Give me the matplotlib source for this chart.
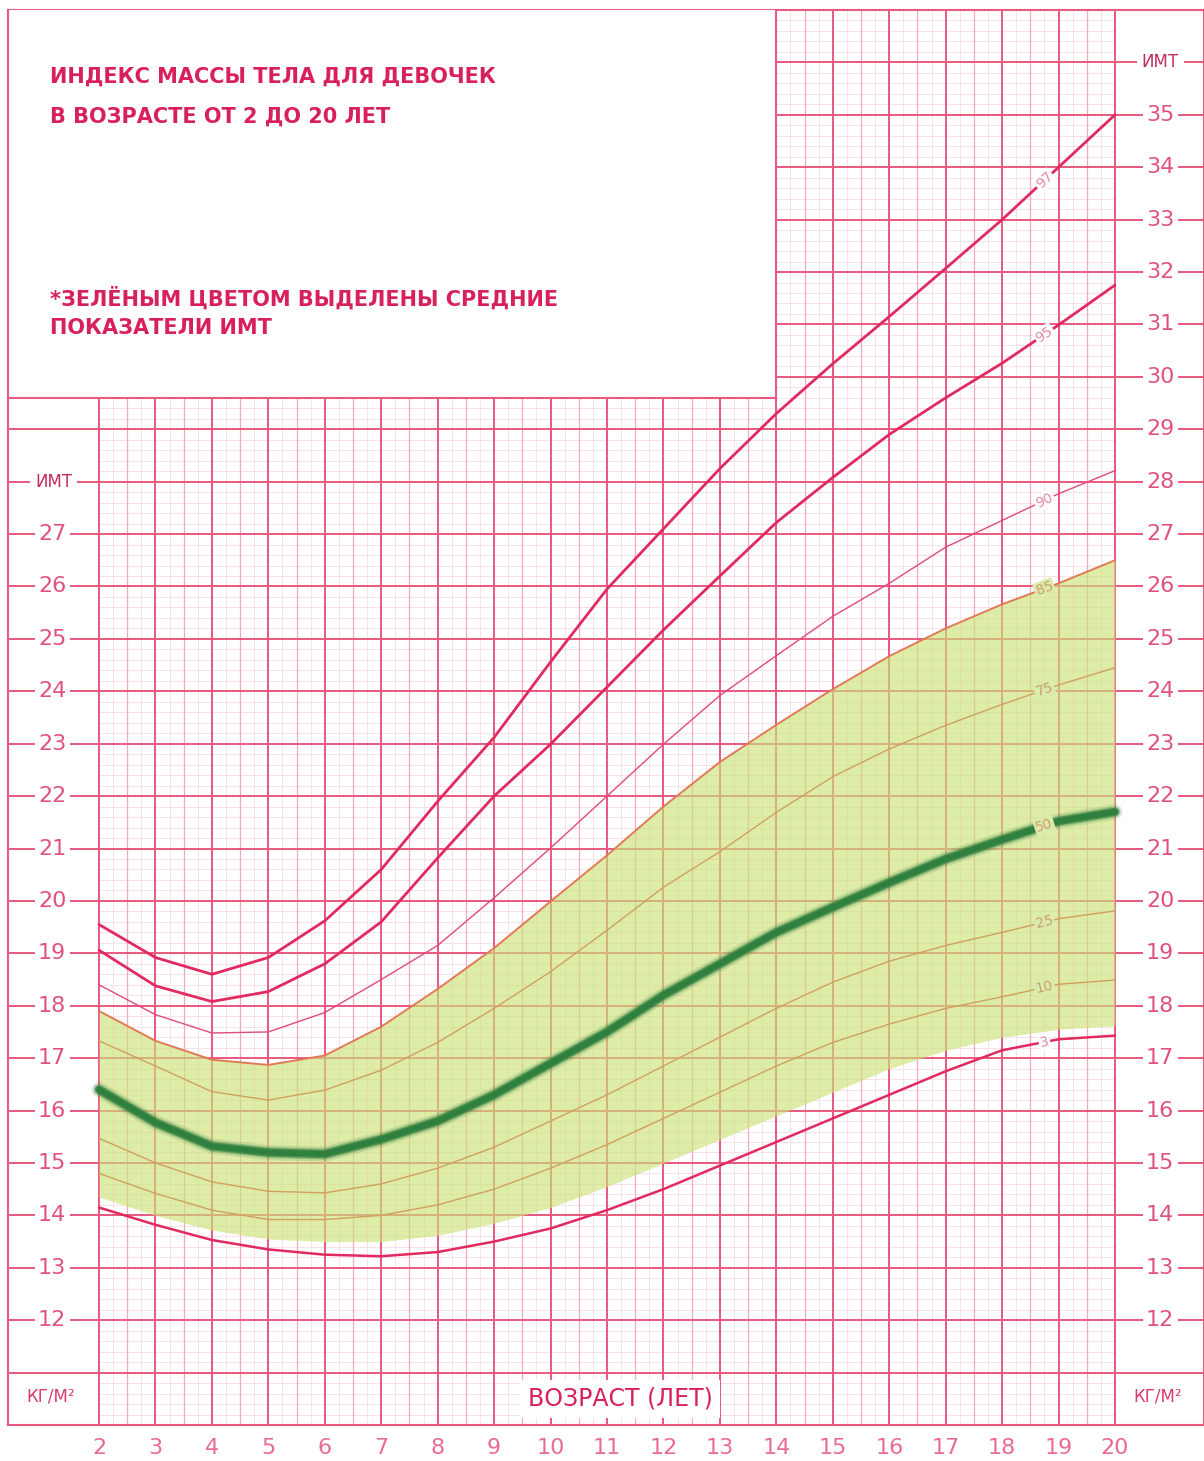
import numpy as np
import matplotlib.pyplot as plt
from matplotlib.patches import Rectangle

# ages (years) and BMI percentiles
ages = list(range(2, 21))
p97 = [19.55, 18.92, 18.60, 18.92, 19.62, 20.60, 21.90, 23.12, 24.56, 25.95,
       27.10, 28.25, 29.30, 30.25, 31.15, 32.07, 33.00, 34.00, 35.00]
p95 = [19.06, 18.38, 18.08, 18.27, 18.80, 19.60, 20.82, 22.00, 22.99, 24.08,
       25.17, 26.20, 27.22, 28.08, 28.90, 29.60, 30.26, 30.99, 31.75]
p90 = [18.40, 17.83, 17.48, 17.50, 17.87, 18.50, 19.15, 20.06, 21.01, 22.00,
       22.99, 23.92, 24.68, 25.43, 26.06, 26.75, 27.26, 27.77, 28.21]
p85 = [17.90, 17.33, 16.97, 16.87, 17.05, 17.60, 18.32, 19.10, 19.99, 20.87,
       21.80, 22.65, 23.36, 24.04, 24.67, 25.20, 25.66, 26.06, 26.50]
p75 = [17.33, 16.85, 16.36, 16.20, 16.39, 16.77, 17.30, 17.95, 18.65, 19.44,
       20.26, 20.94, 21.69, 22.37, 22.90, 23.35, 23.75, 24.12, 24.45]
p50 = [16.40, 15.77, 15.32, 15.20, 15.17, 15.45, 15.80, 16.30, 16.90, 17.50,
       18.20, 18.80, 19.40, 19.88, 20.35, 20.80, 21.17, 21.52, 21.70]
p25 = [15.47, 15.00, 14.64, 14.46, 14.43, 14.60, 14.90, 15.30, 15.80, 16.30,
       16.85, 17.40, 17.95, 18.45, 18.85, 19.15, 19.40, 19.66, 19.81]
p10 = [14.80, 14.42, 14.10, 13.92, 13.92, 14.00, 14.20, 14.50, 14.90, 15.35,
       15.85, 16.35, 16.85, 17.30, 17.65, 17.95, 18.17, 18.41, 18.49]
p3 = [14.15, 13.82, 13.53, 13.35, 13.25, 13.22, 13.30, 13.50, 13.75, 14.10,
      14.50, 14.95, 15.40, 15.85, 16.30, 16.75, 17.15, 17.36, 17.43]
# lower edge of the green "normal" band
green_low = [14.35, 14.00, 13.72, 13.55, 13.50, 13.50, 13.62, 13.85, 14.15, 14.55,
             15.00, 15.45, 15.90, 16.35, 16.80, 17.15, 17.40, 17.55, 17.62]

left_ticks = list(range(12, 28))
right_ticks = list(range(12, 36))
age_ticks = list(range(2, 21))

title_lines = ["ИНДЕКС МАССЫ ТЕЛА ДЛЯ ДЕВОЧЕК", "В ВОЗРАСТЕ ОТ 2 ДО 20 ЛЕТ"]
note_lines = ["*ЗЕЛЁНЫМ ЦВЕТОМ ВЫДЕЛЕНЫ СРЕДНИЕ", "ПОКАЗАТЕЛИ ИМТ"]

major = '#e9587f'
half = '#f3a9bd'
minor = '#f9dce4'
crimson = '#e02a60'
text_red = '#d8215a'
green_bg = '#dcebaa'

fig = plt.figure(figsize=(12.04, 14.61), dpi=100)
ax = fig.add_axes([8 / 1204, 36 / 1461, 1196 / 1204, 1415 / 1461])
x_left = 2 - 91 / 56.44
x_right = 20 + 89 / 56.44
ax.set_xlim(x_left, x_right)
ax.set_ylim(10, 37)
ax.set_xticks([])
ax.set_yticks([])
for s in ax.spines.values():
    s.set_color(major)
    s.set_linewidth(1.5)

# graph paper grid
ax.hlines(np.arange(10, 37.01, 0.2), 2, 20, color=minor, lw=0.6, zorder=1)
ax.vlines(np.arange(2, 20.01, 0.25), 10, 37, color=minor, lw=0.6, zorder=1)
ax.vlines(np.arange(2.5, 20, 1.0), 10, 37, color=half, lw=0.9, zorder=1)
ax.hlines(np.arange(11, 37), x_left, x_right, color=major, lw=1.4, zorder=1.2)
ax.vlines(np.arange(2, 21), 10, 37, color=major, lw=1.4, zorder=1.2)

# white title box
ax.add_patch(Rectangle((x_left, 29.6), 14 - x_left, 37.5 - 29.6, facecolor='white',
                       edgecolor=major, lw=1.5, zorder=3))

# green band
ax.fill_between(ages, green_low, p85, color=(204 / 255, 226 / 255, 121 / 255),
                alpha=0.65, lw=0, zorder=2)

styles = [
    ('97', p97, crimson, 2.0, 'white'),
    ('95', p95, crimson, 2.0, 'white'),
    ('90', p90, '#e04a7c', 1.0, 'white'),
    ('85', p85, '#e07a55', 1.4, green_bg),
    ('75', p75, '#d0a060', 1.0, green_bg),
    ('25', p25, '#d0a060', 1.0, green_bg),
    ('10', p10, '#d0a060', 1.0, green_bg),
    ('3', p3, crimson, 1.8, 'white'),
]
for name, vals, col, lw, bg in styles:
    ax.plot(ages, vals, color=col, lw=lw, zorder=4, solid_capstyle='round',
            solid_joinstyle='round')

# median, drawn soft
for lw, a in [(11, 0.15), (8, 0.35), (6, 0.7), (4, 1.0)]:
    ax.plot(ages, p50, color='#2f7f3e', lw=lw, alpha=a, zorder=5,
            solid_capstyle='round', solid_joinstyle='round')

# percentile labels
sx, sy = 56.44, 52.39
lab_age = 18.75
for name, vals, col, lw, bg in styles + [('50', p50, '#2f7f3e', 3, green_bg)]:
    yv = np.interp(lab_age, ages, vals)
    slope = (np.interp(19.0, ages, vals) - np.interp(18.5, ages, vals)) / 0.5
    ang = np.degrees(np.arctan(slope * sy / sx))
    tc = '#e08aa5' if bg == 'white' else '#c8a070'
    ax.text(lab_age, yv, name, fontsize=10, color=tc, ha='center', va='center',
            rotation=ang, zorder=6,
            bbox=dict(boxstyle='square,pad=0.1', fc=bg, ec='none'))

# side labels
for v in left_ticks:
    ax.text(1.17, v, str(v), fontsize=16, color='#e0527c', ha='center', va='center',
            zorder=6, bbox=dict(boxstyle='square,pad=0.15', fc='white', ec='none'))
for v in right_ticks:
    ax.text(20.8, v, str(v), fontsize=16, color='#e0527c', ha='center', va='center',
            zorder=6, bbox=dict(boxstyle='square,pad=0.15', fc='white', ec='none'))
ax.text(1.2, 28, 'ИМТ', fontsize=12, color='#c42c58', ha='center', va='center',
        zorder=6, bbox=dict(boxstyle='square,pad=0.3', fc='white', ec='none'))
ax.text(20.8, 36, 'ИМТ', fontsize=12, color='#c42c58', ha='center', va='center',
        zorder=6, bbox=dict(boxstyle='square,pad=0.3', fc='white', ec='none'))
ax.text(1.15, 10.55, 'КГ/М²', fontsize=12, color='#d83a68', ha='center',
        va='center', zorder=6)
ax.text(20.75, 10.55, 'КГ/М²', fontsize=12, color='#d83a68', ha='center',
        va='center', zorder=6)
ax.text(11.23, 10.5, 'ВОЗРАСТ (ЛЕТ)', fontsize=17, color=text_red, ha='center',
        va='center', zorder=6,
        bbox=dict(boxstyle='square,pad=0.3', fc='white', ec='none'))

for a in age_ticks:
    ax.text(a, 9.57, str(a), fontsize=16, color='#ea6a90', ha='center',
            va='center', clip_on=False)

# title and note
for i, t in enumerate(title_lines):
    ax.text(1.13, 35.73 - i * 0.77, t, fontsize=15, fontweight='bold',
            color=text_red, ha='left', va='center', zorder=6)
for i, t in enumerate(note_lines):
    ax.text(1.13, 31.51 - i * 0.58, t, fontsize=15, fontweight='bold',
            color=text_red, ha='left', va='center', zorder=6)

fig.savefig('out.png', dpi=100, facecolor='white')
